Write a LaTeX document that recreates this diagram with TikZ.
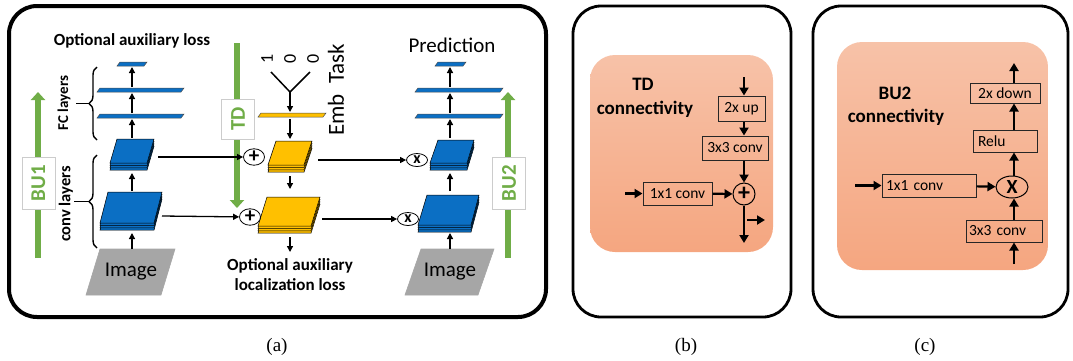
\documentclass[tikz,border=0pt]{standalone}
\usepackage{fontspec}
\setmainfont{Liberation Serif}
\setsansfont{Carlito}
\usetikzlibrary{arrows.meta, shapes.geometric, decorations.pathreplacing, positioning, calc}

\definecolor{layerblue}{HTML}{0B6FC4}
\definecolor{layerorange}{HTML}{FFC000}
\definecolor{imggray}{HTML}{A6A6A6}
\definecolor{flowgreen}{HTML}{70AD47}
\definecolor{salmontop}{HTML}{F7C2A8}
\definecolor{salmonbot}{HTML}{F5A680}

\newcommand{\fsz}[1]{\fontsize{#1}{#1}\selectfont}

% a stack of feature maps: colour, then the four corners of the top face
\newcommand{\layerstack}[5]{%
  \foreach \k in {3,2,1} {
    \filldraw[fill=#1, draw=black, line width=0.5pt, shift={(0,\k*2.4)}] #2 -- #3 -- #4 -- #5 -- cycle;
  }
  \filldraw[fill=#1, draw=black, line width=0.5pt] #2 -- #3 -- #4 -- #5 -- cycle;
}
% a thin fully connected layer: [colour] left x, right x, middle y
\newcommand{\fcbar}[4][layerblue]{%
  \filldraw[fill=#1, draw=black!70, line width=0.5pt]
    (#2,#4+2) -- (#2+3,#4-2) -- (#3,#4-2) -- (#3-3,#4+2) -- cycle;
}

\tikzset{
  panel/.style={draw=black, line width=2.8pt, rounded corners=28pt},
  caption/.style={font=\rmfamily\fsz{19}},
  aflow/.style={-{Triangle[length=6pt, width=6pt]}, line width=1.3pt},
  bflow/.style={-{Triangle[length=8pt, width=9pt]}, line width=2.2pt},
  stream/.style={flowgreen, line width=6.5pt, -{Triangle[length=8pt, width=14pt]}},
  tag/.style={draw=black!20, fill=white, text=flowgreen, font=\sffamily\bfseries\fsz{21},
    rotate=90, minimum width=52pt, minimum height=33pt, inner sep=0pt},
  imgfill/.style={fill=imggray, draw=black!35, line width=0.6pt},
  imglabel/.style={font=\sffamily\fsz{21}},
  boldtxt/.style={font=\sffamily\bfseries\fsz{17}},
  sidetxt/.style={font=\sffamily\bfseries\fsz{15}, rotate=90},
  opnode/.style={ellipse, draw, line width=0.8pt, fill=white, minimum width=21pt,
    minimum height=13pt, inner sep=0pt, font=\sffamily\bfseries\fsz{16}},
  opbox/.style={draw=black!85, line width=1pt, inner sep=0pt, font=\sffamily\fsz{15.5}},
  brace/.style={decorate, decoration={brace, amplitude=8pt}, line width=1.4pt},
}

\begin{document}
\begin{tikzpicture}[x=1pt, y=-1pt]
  \useasboundingbox (0,0) rectangle (1073,360);

  % Draw the three panels
  \draw[panel, line width=4pt] (9,6) rectangle (546,317);
  \draw[panel] (573,6) rectangle (791,317);
  \draw[panel] (813,6) rectangle (1068,317);
  \node[caption] (capA) at (277,347) {(a)};
  \node[caption] (capB) at (686,347) {(b)};
  \node[caption] (capC) at (925,347) {(c)};

  % Green streams with their tags
  \draw[stream] (38,258) -- (38,92);
  \node[tag] (bu1) at (38.5,183) {BU1};
  \draw[stream] (508,258) -- (508,92);
  \node[tag] (bu2) at (509,183) {BU2};
  \draw[stream] (237,43) -- (237,208);
  \node[tag, minimum width=40pt] (td) at (238,119) {TD};

  % Input images
  \filldraw[imgfill] (86,295) -- (161,295) -- (175,249) -- (100,249) -- cycle;
  \node[imglabel] (imageL) at (131,272) {Image};
  \filldraw[imgfill] (405,295) -- (478,295) -- (494,249) -- (421,249) -- cycle;
  \node[imglabel] (imageR) at (450,272) {Image};

  % Feature map stacks
  \layerstack{layerblue}{(117,139)}{(154,139)}{(147,163)}{(110,163)}
  \layerstack{layerblue}{(108,192)}{(162,192)}{(154,223)}{(100,223)}
  \layerstack{layerorange}{(276,141)}{(312,141)}{(304,165)}{(268,165)}
  \layerstack{layerorange}{(267,197)}{(320,197)}{(311,226)}{(258,226)}
  \layerstack{layerblue}{(438,140)}{(474,140)}{(467,163)}{(430,163)}
  \layerstack{layerblue}{(427,195)}{(479,195)}{(471,225)}{(418,225)}

  % FC layers and the task embedding
  \fcbar{117}{147}{64}
  \fcbar{97}{184}{90}
  \fcbar{97}{184}{116}
  \fcbar{435}{466}{64}
  \fcbar{415}{503}{90}
  \fcbar{415}{503}{116}
  \fcbar[layerorange]{258}{326}{115}

  % Arrows up the two BU columns
  \foreach \s/\x in {L/132, R/450} {
    \coordinate (img\s) at (\x,249);
    \coordinate (cvA\s) at (\x,233);
    \coordinate (cvB\s) at (\x,191);
    \coordinate (cvC\s) at (\x,173);
    \coordinate (cvD\s) at (\x,138);
    \coordinate (fcA\s) at (\x,119);
    \coordinate (fcB\s) at (\x,113);
    \coordinate (fcC\s) at (\x,93);
    \coordinate (fcD\s) at (\x,87);
    \coordinate (fcE\s) at (\x,67);
  }
  \foreach \s in {L,R}
    \foreach \a/\b in {img/cvA, cvB/cvC, cvD/fcA, fcB/fcC, fcD/fcE}
      \draw[aflow] (\a\s) -- (\b\s);

  % Lateral connections
  \node[opnode, font=\sffamily\bfseries\fsz{21}] (plusA) at (254,157) {+};
  \node[opnode, font=\sffamily\bfseries\fsz{21}] (plusB) at (250,217) {+};
  \node[opnode] (timesA) at (417,160) {x};
  \node[opnode] (timesB) at (408,219) {x};
  \coordinate (cvOutA) at (158,157);
  \coordinate (cvOutB) at (162,216);
  \coordinate (tdOutA) at (318,160);
  \coordinate (tdOutB) at (322,219);
  \draw[aflow] (cvOutA) -- (plusA);
  \draw[aflow] (cvOutB) -- (plusB);
  \draw[aflow] (tdOutA) -- (timesA);
  \draw[aflow] (tdOutB) -- (timesB);

  % Task embedding and TD column
  \node[font=\sffamily\fsz{18}, rotate=90] (dOne) at (267,59) {1};
  \node[font=\sffamily\fsz{18}, rotate=90] (dTwo) at (290,59) {0};
  \node[font=\sffamily\fsz{18}, rotate=90] (dThree) at (313,59) {0};
  \node[font=\sffamily\fsz{23}, rotate=90] (emb) at (336,90) {Emb\ \ Task};
  \coordinate (oneT) at (271,72);
  \coordinate (zeroT) at (310,72);
  \coordinate (embV) at (290,92);
  \draw[line width=1.5pt] (oneT) -- (embV) -- (zeroT);
  \coordinate (embTop) at (290,112);
  \coordinate (embBot) at (290,119);
  \coordinate (tdA) at (290,139);
  \coordinate (tdB) at (290,176);
  \coordinate (tdC) at (290,189);
  \coordinate (tdD) at (290,237);
  \coordinate (tdE) at (290,252);
  \foreach \a/\b in {embV/embTop, embBot/tdA, tdB/tdC, tdD/tdE}
    \draw[aflow] (\a) -- (\b);

  % Braces and texts
  \draw[brace] (97,140) -- (97,67);
  \draw[line width=1.4pt] (89,103.5) -- (76,103.5);
  \draw[brace] (97,248) -- (97,155);
  \draw[line width=1.4pt] (89,201.5) -- (74,201.5);
  \node[sidetxt] (fcTxt) at (64,103) {FC layers};
  \node[sidetxt, font=\sffamily\bfseries\fsz{16.5}] (convTxt) at (66,204) {conv layers};
  \node[boldtxt] (auxTxt) at (132,41) {Optional auxiliary loss};
  \node[font=\sffamily\fsz{21}] (predTxt) at (452,45) {Prediction};
  \node[boldtxt, align=center, font=\sffamily\bfseries\fontsize{17}{20}\selectfont] (locTxt) at (290,275)
    {Optional auxiliary\\localization loss};

  % Panel (b): TD connectivity
  \shade[rounded corners=25pt, top color=salmontop, bottom color=salmonbot] (590,55) rectangle (773,252);
  \node[boldtxt, font=\sffamily\bfseries\fsz{19}] (tdTitle) at (643,84) {TD};
  \node[boldtxt, font=\sffamily\bfseries\fsz{19}] (tdConn) at (645,109) {connectivity};
  \node[opbox, minimum width=47pt, minimum height=25pt] (up) at (741.5,108.5) {2x up};
  \node[opbox, minimum width=66pt, minimum height=24pt] (convB3) at (735,148) {3x3 conv};
  \node[opbox, minimum width=69pt, minimum height=23pt] (convB1) at (677.5,193.5) {1x1 conv};
  \node[circle, draw, line width=1pt, minimum size=22pt, inner sep=0pt,
    font=\sffamily\bfseries\fsz{24}] (sumB) at (744,194) {+};
  \coordinate (inTop) at (744,77);
  \coordinate (inLeft) at (625,193.5);
  \coordinate (outDown) at (744,243);
  \coordinate (branch) at (747,220);
  \coordinate (outRight) at (765,220);
  \draw[bflow] (inTop) -- (up.north -| inTop);
  \draw[bflow] (up.south -| inTop) -- (convB3.north -| inTop);
  \draw[bflow] (convB3.south -| inTop) -- (sumB);
  \draw[bflow] (inLeft) -- (convB1);
  \draw[bflow] (convB1) -- (sumB);
  \draw[bflow] (sumB) -- (outDown);
  \draw[bflow] (branch) -- (outRight);

  % Panel (c): BU2 connectivity
  \shade[rounded corners=25pt, top color=salmontop, bottom color=salmonbot] (837,42) rectangle (1048,270);
  \node[boldtxt, font=\sffamily\bfseries\fsz{19}] (buTitle) at (895,93) {BU2};
  \node[boldtxt, font=\sffamily\bfseries\fsz{19}] (buConn) at (896,117) {connectivity};
  \node[opbox, minimum width=70pt, minimum height=20pt] (down) at (1005,93) {2x down};
  \node[opbox, minimum width=64pt, minimum height=22pt, text width=54pt, align=left] (relu) at (1005,141) {Relu};
  \node[opbox, minimum width=94pt, minimum height=23pt, text width=86pt, align=left] (convC1) at (929,185.5) {1x1 conv};
  \node[opbox, minimum width=76pt, minimum height=22pt, text width=70pt, align=left] (convC3) at (1004,231) {3x3 conv};
  \node[ellipse, draw, line width=1pt, minimum width=32pt, minimum height=22pt, inner sep=0pt,
    font=\sffamily\bfseries\fsz{20}] (prodC) at (1012,187) {X};
  \coordinate (outTop) at (1014,63);
  \coordinate (inBottom) at (1014,264);
  \coordinate (inLeftC) at (855,185.5);
  \draw[bflow] (down.north -| outTop) -- (outTop);
  \draw[bflow] (relu.north -| outTop) -- (down.south -| outTop);
  \draw[bflow] (prodC.north -| outTop) -- (relu.south -| outTop);
  \draw[bflow] (convC3.north -| outTop) -- (prodC.south -| outTop);
  \draw[bflow] (inBottom) -- (convC3.south -| outTop);
  \draw[bflow] (inLeftC) -- (convC1);
  \draw[bflow] (convC1) -- (prodC);

\end{tikzpicture}
\end{document}
